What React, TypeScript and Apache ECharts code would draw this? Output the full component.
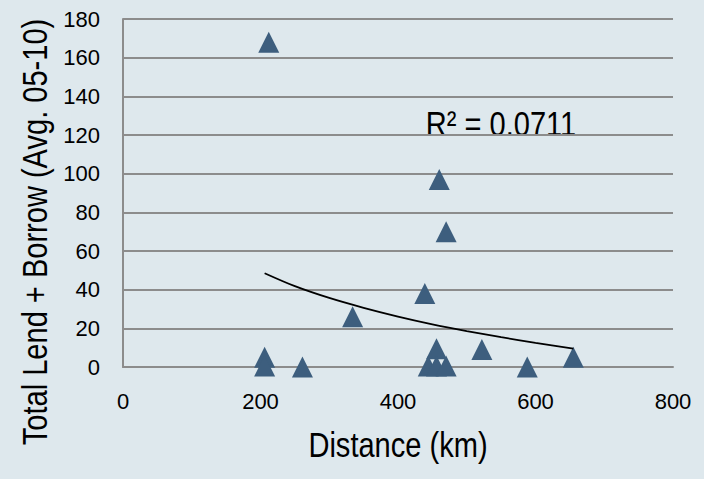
import React, { useEffect, useRef } from "react";
import * as echarts from "echarts";

// Scatter data
const distanceKm = [212, 460, 470, 439, 334, 206, 206, 261, 456, 444, 456, 470, 522, 588, 655];
const lendBorrow = [168, 97, 70, 38, 26, 5, 0.5, 0, 9.5, 0.5, 0.5, 0.5, 9, 0, 5];

// Trendline points
const trendX = [206, 250, 300, 350, 400, 450, 500, 550, 600, 655];
const trendY = [48.5, 41.8, 35.7, 30.6, 26.1, 22.1, 18.6, 15.4, 12.5, 9.5];

const xTicks = { min: 0, max: 800, interval: 200 };
const yTicks = { min: 0, max: 180, interval: 20 };

const xTitle = "Distance (km)";
const yTitle = "Total Lend + Borrow (Avg. 05-10)";
const r2Label = "R² = 0.0711";

const FONT = "'Liberation Sans', Arial, sans-serif";
const NARROW = 0.83;

export default function App() {
  const ref = useRef<HTMLDivElement>(null);
  useEffect(() => {
    if (!ref.current) return;
    const chart = echarts.init(ref.current, null, { renderer: "svg" });
    const grid = "#8c8c8c";
    const titleStyle = {
      fontSize: 35,
      fontFamily: FONT,
      fill: "#000",
      textAlign: "center",
      textVerticalAlign: "middle",
    };
    chart.setOption({
      animation: false,
      backgroundColor: "#dee8ed",
      grid: { left: 123, right: 31, top: 19, bottom: 112 },
      xAxis: {
        type: "value",
        min: xTicks.min,
        max: xTicks.max,
        interval: xTicks.interval,
        axisLine: { show: true, onZero: false, lineStyle: { color: grid, width: 2 } },
        axisTick: { show: false },
        splitLine: { show: false },
        axisLabel: { margin: 23, color: "#000", fontSize: 22, fontFamily: FONT },
      },
      yAxis: {
        type: "value",
        min: yTicks.min,
        max: yTicks.max,
        interval: yTicks.interval,
        axisLine: { show: true, onZero: false, lineStyle: { color: grid, width: 2 } },
        axisTick: { show: false },
        splitLine: { show: true, lineStyle: { color: grid, width: 2 } },
        axisLabel: { margin: 23, color: "#000", fontSize: 22, fontFamily: FONT },
      },
      series: [
        {
          type: "scatter",
          symbol: "triangle",
          symbolSize: 21,
          itemStyle: { color: "#3d5e7e", opacity: 1 },
          data: distanceKm.map((x, i) => [x, lendBorrow[i]]),
          z: 2,
        },
        {
          type: "line",
          showSymbol: false,
          smooth: 0.3,
          lineStyle: { color: "#000", width: 1.8 },
          data: trendX.map((x, i) => [x, trendY[i]]),
          z: 3,
        },
      ],
      graphic: [
        {
          type: "text",
          x: 35,
          y: 232,
          rotation: Math.PI / 2,
          scaleX: NARROW,
          style: { ...titleStyle, text: yTitle },
        },
        {
          type: "text",
          x: 398,
          y: 445,
          scaleX: NARROW,
          style: { ...titleStyle, text: xTitle },
        },
        {
          type: "text",
          x: 501,
          y: 124,
          scaleX: NARROW,
          style: { ...titleStyle, text: r2Label },
        },
      ],
    });
    return () => chart.dispose();
  }, []);
  return (
    <div
      ref={ref}
      style={{ position: "fixed", left: 0, top: 0, width: 704, height: 479 }}
    />
  );
}
